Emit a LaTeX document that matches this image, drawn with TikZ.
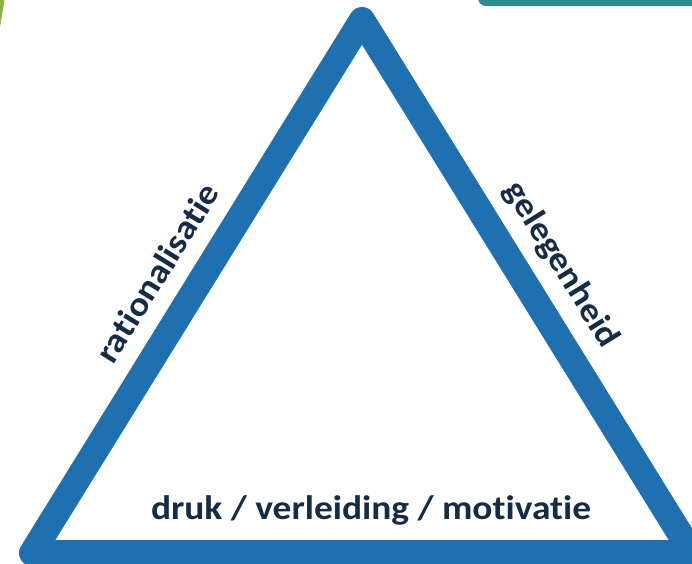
\documentclass[tikz,border=0pt]{standalone}
\usepackage{fontspec}
\setmainfont{Carlito}
\newfontfamily\labelfont[FakeStretch=1.1, Ligatures=NoCommon]{Carlito}
\definecolor{triblue}{RGB}{30,112,176}
\definecolor{txtdark}{RGB}{22,44,68}
\definecolor{tealbar}{RGB}{40,142,142}
\definecolor{leafgreen}{RGB}{140,180,60}
\begin{document}
\begin{tikzpicture}[x=1pt,y=1pt,
  lbl/.style={font=\labelfont\bfseries\fontsize{34}{40}\selectfont, text=txtdark, inner sep=0pt}]
\useasboundingbox (0,0) rectangle (692,563);
\clip (0,0) rectangle (692,563);
\fill[white] (0,0) rectangle (692,563);
% decorations at the top corners
\fill[leafgreen] (0,563) -- (4.5,563) -- (0,536) -- cycle;
\fill[tealbar, rounded corners=8pt] (478,557) rectangle (720,580);
% triangle
\coordinate (A) at (32,10);
\coordinate (B) at (692,10);
\coordinate (T) at (362,543);
\draw[triblue, line width=26pt, line join=round] (A) -- (B) -- (T) -- cycle;
% labels
\node[lbl, rotate=58.2] (rat) at (157,290) {rationalisatie};
\node[lbl, rotate=-58.2] (gel) at (561,298) {gelegenheid};
\node[lbl, anchor=base] (druk) at (371,44) {druk / verleiding / motivatie};
\end{tikzpicture}
\end{document}
